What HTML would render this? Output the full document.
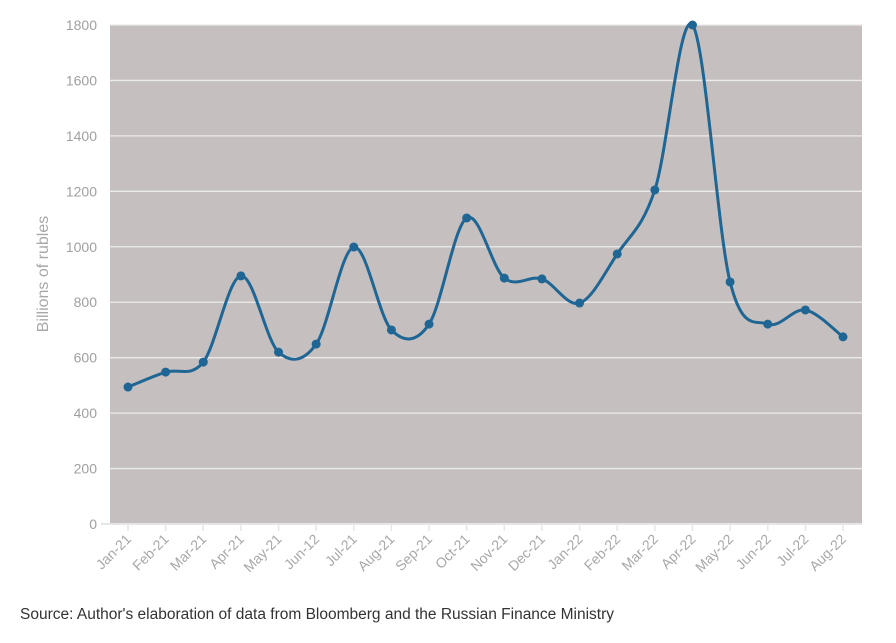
<!DOCTYPE html>
<html><head><meta charset="utf-8"><style>
body{margin:0;background:#fff;font-family:"Liberation Sans",sans-serif;}
svg text{font-family:"Liberation Sans",sans-serif;}
</style></head><body>
<svg id="chart" width="896" height="638" viewBox="0 0 896 638" xmlns="http://www.w3.org/2000/svg">
<rect x="110" y="25" width="752" height="499" fill="#c5c0bf"/>
<g id="grid"></g><g id="axes"></g><path id="line" fill="none" stroke="#1f6694" stroke-width="3"/><g id="pts"></g>
<text transform="translate(48,274) rotate(-90)" text-anchor="middle" font-size="16" fill="#a8a8a8">Billions of rubles</text>
<text x="20" y="619" font-size="15.5" fill="#333">Source: Author's elaboration of data from Bloomberg and the Russian Finance Ministry</text>
</svg>
<script>
const categories=["Jan-21","Feb-21","Mar-21","Apr-21","May-21","Jun-12","Jul-21","Aug-21","Sep-21","Oct-21","Nov-21","Dec-21","Jan-22","Feb-22","Mar-22","Apr-22","May-22","Jun-22","Jul-22","Aug-22"];
const values=[494,548,584,895,620,649,999,700,721,1104,887,884,797,974,1205,1800,873,721,772,675];
const yTicks=[0,200,400,600,800,1000,1200,1400,1600,1800];
const NS="http://www.w3.org/2000/svg";
const x0=128,x1=843,yb=524,yt=25,ymax=1800;
const xs=i=>x0+(x1-x0)*i/(categories.length-1);
const ys=v=>yb-(yb-yt)*v/ymax;
function mk(t,a,p){const e=document.createElementNS(NS,t);for(const k in a)e.setAttribute(k,a[k]);p.appendChild(e);return e;}
const grid=document.getElementById('grid'),axes=document.getElementById('axes'),pts=document.getElementById('pts');
yTicks.forEach(v=>{
 const y=ys(v);
 const l=mk('line',{x1:v===0?101:110,x2:862,y1:y,y2:y,stroke:v===0?'#e6e6e6':'#ebebeb','stroke-width':v===0?2:1.3},grid);
 
 
 const t=mk('text',{x:97,y:y+5,'text-anchor':'end','font-size':14,fill:'#a0a0a0'},axes);
 t.textContent=v;
 
 
});
categories.forEach((c,i)=>{
 const x=xs(i);
 const tk=mk('line',{x1:x,x2:x,y1:525,y2:531,stroke:'#e6e6e6','stroke-width':1.5},axes);
 
 
 const t=mk('text',{transform:`translate(${x+4},${540}) rotate(-45)`,'text-anchor':'end','font-size':14,fill:'#a8a8a8'},axes);
 t.textContent=c;
 
 
});
const P=values.map((v,i)=>[xs(i),ys(v)]);
let d=`M${P[0][0]},${P[0][1]}`;
for(let i=0;i<P.length-1;i++){
 const p0=P[i-1]||P[i],p1=P[i],p2=P[i+1],p3=P[i+2]||P[i+1];
 const c1=[p1[0]+(p2[0]-p0[0])/6,p1[1]+(p2[1]-p0[1])/6];
 const c2=[p2[0]-(p3[0]-p1[0])/6,p2[1]-(p3[1]-p1[1])/6];
 d+=` C${c1[0]},${c1[1]} ${c2[0]},${c2[1]} ${p2[0]},${p2[1]}`;
}
document.getElementById('line').setAttribute('d',d);
P.forEach((p,i)=>{
 const c=mk('circle',{cx:p[0],cy:p[1],r:4.5,fill:'#1f6694'},pts);
 
 
});
</script>
</body></html>
